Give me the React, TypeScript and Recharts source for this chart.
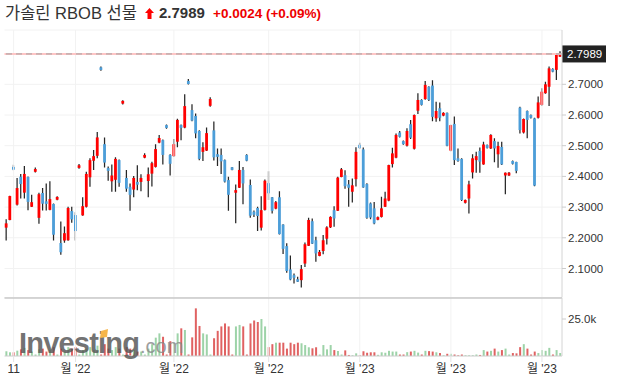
import React from 'react';
import {
  ComposedChart,
  BarChart,
  Bar,
  XAxis,
  YAxis,
  CartesianGrid,
  ReferenceLine,
  Cell,
} from 'recharts';

// OHLC per session
const opens = [
  2.233, 2.258, 2.431, 2.308, 2.399, 2.347, 2.398, 2.301, 2.415, 2.265,
  2.346, 2.318, 2.291, 2.310, 2.324, 2.183, 2.191, 2.192, 2.287, 2.274,
  2.428, 2.273, 2.301, 2.397, 2.451, 2.467, 2.755, 2.505, 2.427, 2.384,
  2.389, 2.453, 2.637, 2.395, 2.366, 2.357, 2.382, 2.382, 2.461, 2.385,
  2.409, 2.431, 2.510, 2.518, 2.567, 2.470, 2.466, 2.513, 2.567, 2.559,
  2.711, 2.616, 2.597, 2.548, 2.480, 2.484, 2.630, 2.550, 2.472, 2.470,
  2.453, 2.388, 2.429, 2.347, 2.363, 2.421, 2.470, 2.372, 2.285, 2.297,
  2.233, 2.291, 2.378, 2.332, 2.295, 2.332, 2.243, 2.173, 2.097, 2.078,
  2.065, 2.062, 2.116, 2.174, 2.254, 2.192, 2.141, 2.157, 2.197, 2.234,
  2.290, 2.288, 2.398, 2.404, 2.374, 2.350, 2.391, 2.503, 2.488, 2.375,
  2.312, 2.296, 2.259, 2.268, 2.301, 2.321, 2.440, 2.461, 2.543, 2.515,
  2.500, 2.570, 2.490, 2.614, 2.649, 2.652, 2.692, 2.696, 2.589, 2.622,
  2.598, 2.607, 2.484, 2.571, 2.459, 2.457, 2.314, 2.328, 2.413, 2.453,
  2.483, 2.439, 2.502, 2.491, 2.515, 2.472, 2.496, 2.403, 2.403, 2.450,
  2.447, 2.624, 2.543, 2.613, 2.600, 2.589, 2.591, 2.633, 2.671, 2.692,
  2.750, 2.747, 2.790,
];
const highs = [
  2.260, 2.337, 2.438, 2.395, 2.408, 2.434, 2.400, 2.340, 2.429, 2.347,
  2.362, 2.377, 2.384, 2.312, 2.335, 2.253, 2.237, 2.301, 2.301, 2.283,
  2.440, 2.332, 2.415, 2.459, 2.486, 2.545, 2.758, 2.527, 2.432, 2.439,
  2.462, 2.455, 2.648, 2.421, 2.377, 2.401, 2.436, 2.407, 2.475, 2.429,
  2.448, 2.505, 2.535, 2.520, 2.569, 2.472, 2.522, 2.588, 2.569, 2.668,
  2.717, 2.635, 2.605, 2.550, 2.511, 2.559, 2.658, 2.579, 2.491, 2.491,
  2.455, 2.399, 2.431, 2.374, 2.450, 2.431, 2.472, 2.390, 2.289, 2.301,
  2.335, 2.390, 2.417, 2.333, 2.320, 2.352, 2.244, 2.182, 2.142, 2.084,
  2.073, 2.111, 2.185, 2.265, 2.263, 2.203, 2.160, 2.209, 2.238, 2.270,
  2.303, 2.399, 2.427, 2.420, 2.388, 2.393, 2.495, 2.510, 2.494, 2.378,
  2.315, 2.317, 2.269, 2.334, 2.350, 2.438, 2.493, 2.540, 2.548, 2.517,
  2.557, 2.584, 2.602, 2.671, 2.651, 2.711, 2.694, 2.713, 2.643, 2.641,
  2.609, 2.608, 2.568, 2.595, 2.491, 2.459, 2.325, 2.386, 2.472, 2.480,
  2.494, 2.513, 2.504, 2.537, 2.524, 2.513, 2.513, 2.413, 2.414, 2.452,
  2.448, 2.627, 2.589, 2.615, 2.602, 2.591, 2.660, 2.687, 2.708, 2.758,
  2.752, 2.801, 2.808,
];
const lows = [
  2.191, 2.257, 2.420, 2.305, 2.328, 2.328, 2.290, 2.300, 2.413, 2.246,
  2.289, 2.289, 2.290, 2.191, 2.322, 2.145, 2.184, 2.190, 2.249, 2.191,
  2.425, 2.272, 2.299, 2.366, 2.421, 2.459, 2.744, 2.429, 2.386, 2.350,
  2.350, 2.366, 2.634, 2.350, 2.288, 2.332, 2.355, 2.352, 2.459, 2.332,
  2.367, 2.429, 2.508, 2.439, 2.555, 2.403, 2.464, 2.495, 2.518, 2.557,
  2.699, 2.580, 2.524, 2.453, 2.450, 2.483, 2.627, 2.452, 2.434, 2.408,
  2.380, 2.288, 2.420, 2.247, 2.362, 2.309, 2.449, 2.265, 2.268, 2.222,
  2.224, 2.289, 2.323, 2.279, 2.293, 2.211, 2.147, 2.086, 2.062, 2.051,
  2.056, 2.038, 2.105, 2.173, 2.180, 2.122, 2.140, 2.146, 2.178, 2.232,
  2.236, 2.287, 2.397, 2.360, 2.301, 2.315, 2.367, 2.490, 2.363, 2.262,
  2.260, 2.244, 2.257, 2.266, 2.300, 2.319, 2.429, 2.459, 2.527, 2.503,
  2.497, 2.522, 2.488, 2.603, 2.631, 2.650, 2.646, 2.580, 2.578, 2.580,
  2.596, 2.498, 2.482, 2.437, 2.448, 2.320, 2.312, 2.279, 2.393, 2.412,
  2.412, 2.438, 2.491, 2.489, 2.446, 2.428, 2.437, 2.342, 2.401, 2.439,
  2.410, 2.540, 2.540, 2.524, 2.589, 2.368, 2.589, 2.630, 2.669, 2.629,
  2.739, 2.714, 2.789,
];
const closes = [
  2.247, 2.336, 2.422, 2.362, 2.375, 2.408, 2.317, 2.316, 2.424, 2.342,
  2.311, 2.311, 2.326, 2.210, 2.333, 2.153, 2.215, 2.297, 2.260, 2.222,
  2.436, 2.303, 2.408, 2.453, 2.466, 2.527, 2.747, 2.445, 2.418, 2.403,
  2.457, 2.379, 2.646, 2.360, 2.340, 2.395, 2.373, 2.395, 2.470, 2.407,
  2.443, 2.489, 2.525, 2.470, 2.558, 2.441, 2.505, 2.584, 2.558, 2.629,
  2.701, 2.582, 2.540, 2.457, 2.495, 2.541, 2.652, 2.462, 2.464, 2.449,
  2.383, 2.340, 2.422, 2.355, 2.421, 2.377, 2.451, 2.272, 2.275, 2.271,
  2.290, 2.386, 2.345, 2.288, 2.316, 2.212, 2.164, 2.092, 2.064, 2.070,
  2.057, 2.098, 2.179, 2.258, 2.181, 2.149, 2.154, 2.192, 2.234, 2.268,
  2.263, 2.396, 2.423, 2.368, 2.363, 2.371, 2.480, 2.492, 2.364, 2.265,
  2.266, 2.247, 2.267, 2.296, 2.328, 2.437, 2.475, 2.535, 2.529, 2.505,
  2.548, 2.526, 2.600, 2.649, 2.633, 2.698, 2.649, 2.594, 2.613, 2.591,
  2.607, 2.500, 2.567, 2.453, 2.450, 2.323, 2.323, 2.374, 2.459, 2.466,
  2.448, 2.504, 2.493, 2.535, 2.491, 2.499, 2.439, 2.412, 2.412, 2.441,
  2.418, 2.551, 2.587, 2.584, 2.591, 2.370, 2.641, 2.676, 2.700, 2.752,
  2.741, 2.796, 2.7989,
];
// volume, in thousands of contracts
const volumes = [
  3.2, 2.5, 2.5, 3.6, 4.5, 5.5, 4, 3, 1, 4.5,
  5, 3, 4, 6, 1, 5, 3, 6, 5, 6,
  1, 4, 5, 6, 4, 7, 1, 8, 5, 4,
  6, 5, 1, 6, 5, 4, 3, 3, 1, 5,
  8, 12.4, 15.3, 13, 1, 10, 9, 15.3, 18.7, 17.6,
  1, 12.6, 32.2, 20.3, 15.3, 14.6, 1, 12, 17, 20,
  22, 20, 1, 20, 21, 20, 1, 22, 24, 23,
  25, 20, 6, 8, 9, 9, 9, 5, 9, 8,
  9, 8.6, 7.4, 5.9, 5.2, 5.9, 1, 7.4, 4.5, 7.4,
  4, 3.4, 1, 3.8, 0.7, 0.5, 1.8, 0.5, 3.2, 2.2,
  2.5, 2.5, 0.8, 2.5, 2.2, 3.5, 3, 3, 1, 1,
  2.6, 3, 3.5, 2.3, 1, 3.5, 3.3, 3, 2.5, 2,
  0.5, 1.5, 1.5, 1, 0.5, 1, 0.5, 0.5, 0.5, 1,
  0.7, 4, 3, 3.5, 5, 3, 4, 5, 1, 2,
  1.8, 6, 8, 5, 1, 3, 2, 4, 3.5, 5.5,
  1, 4, 2,
];

const tickIdx = [2, 19, 46, 72, 97, 122, 147];
const tickLabels = ['11', "월 '22", "월 '22", "월 '22", "월 '23", "월 '23", "월 '23"];
const priceTicks = [2.1, 2.2, 2.3, 2.4, 2.5, 2.6, 2.7];
const volTicks = [25];
const LAST = 2.7989;

const RED = '#ff0000';
const BLUE = '#4c9ed9';
const VOL_UP = '#9dd3a8';
const VOL_DOWN = '#e06262';
const GRID = '#f2f2f2';
const FONT = 'Arial, "Liberation Sans", "Noto Sans CJK KR", sans-serif';

const PRICE_DOMAIN: [number, number] = [2.0055, 2.8769];
const VOL_TOP = 39.2;
const BODY_W = 2.8;

const data = opens.map((o, i) => ({
  i,
  o,
  h: highs[i],
  l: lows[i],
  c: closes[i],
  v: volumes[i],
}));

const Candle = (props: any) => {
  const { x, y, width, height, payload } = props;
  if (x == null || y == null) return null;
  const { o, h, l, c } = payload;
  const top = Math.min(y, y + height);
  const span = Math.abs(height);
  const k = h - l > 0 ? span / (h - l) : 0;
  const yO = top + (h - o) * k;
  const yC = top + (h - c) * k;
  let bTop = Math.min(yO, yC);
  let bH = Math.abs(yO - yC);
  if (bH < 2.6) {
    const mid = (yO + yC) / 2;
    bTop = mid - 1.3;
    bH = 2.6;
  }
  const cx = x + width / 2;
  return (
    <g>
      <line x1={cx} x2={cx} y1={top} y2={top + span} stroke="#262626" strokeWidth={1.25} />
      <rect x={cx - BODY_W / 2} y={bTop} width={BODY_W} height={bH} fill={c >= o ? RED : BLUE} />
    </g>
  );
};

const PriceTag = (props: any) => {
  const vb = props.viewBox;
  if (!vb) return null;
  const x = vb.x + vb.width;
  const y = vb.y;
  return (
    <g>
      <rect x={x} y={y - 8.5} width={44} height={17} fill="#222222" />
      <text x={x + 5} y={y + 4.2} fill="#ffffff" fontSize={11.5} fontFamily={FONT}>
        {LAST.toFixed(4)}
      </text>
    </g>
  );
};

const axisTick = { fill: '#333333', fontSize: 11.5, fontFamily: FONT };

export default function App() {
  return (
    <div
      style={{
        position: 'absolute',
        left: 0,
        top: 0,
        width: 618,
        height: 391,
        background: '#ffffff',
        fontFamily: FONT,
        overflow: 'hidden',
      }}
    >
      {/* header */}
      <div style={{ position: 'absolute', left: 5, top: 4, fontSize: 16.5, lineHeight: '18px', color: '#333333' }}>
        가솔린 RBOB 선물
      </div>
      <svg style={{ position: 'absolute', left: 145, top: 8 }} width={9} height={11}>
        <polygon points="4.5,0 9,5 6.5,5 6.5,11 2.5,11 2.5,5 0,5" fill={RED} />
      </svg>
      <div
        style={{
          position: 'absolute',
          left: 159,
          top: 4,
          fontSize: 15,
          lineHeight: '18px',
          fontWeight: 700,
          color: '#333333',
        }}
      >
        2.7989
      </div>
      <div
        style={{
          position: 'absolute',
          left: 213,
          top: 5,
          fontSize: 13.5,
          lineHeight: '17px',
          fontWeight: 700,
          color: '#ee0000',
        }}
      >
        +0.0024 (+0.09%)
      </div>

      {/* price pane */}
      <div style={{ position: 'absolute', left: 0, top: 0 }}>
        <ComposedChart
          width={618}
          height={298}
          data={data}
          margin={{ top: 30, right: 0, bottom: 0.5, left: 4.5 }}
          barCategoryGap="18%"
        >
          <CartesianGrid vertical={false} stroke={GRID} />
          <XAxis dataKey="i" type="category" hide />
          <YAxis
            orientation="right"
            width={56}
            domain={PRICE_DOMAIN}
            allowDataOverflow
            ticks={priceTicks}
            interval={0}
            tickFormatter={(v: number) => v.toFixed(4)}
            tick={axisTick}
            tickSize={4}
            tickMargin={2}
            tickLine={{ stroke: '#cccccc' }}
            axisLine={{ stroke: '#d4d4d4' }}
          />
          {tickIdx.map((t) => (
            <ReferenceLine key={t} x={t} stroke={GRID} />
          ))}
          <ReferenceLine y={LAST} stroke="#ffc6c6" strokeWidth={2} />
          <ReferenceLine
            y={LAST}
            stroke="#a0a0a0"
            strokeDasharray="6 4"
            label={<PriceTag />}
          />
          <Bar dataKey={(d: any) => [d.l, d.h]} shape={<Candle />} isAnimationActive={false} />
        </ComposedChart>
      </div>

      {/* volume pane */}
      <div style={{ position: 'absolute', left: 0, top: 297 }}>
        <BarChart
          width={618}
          height={94}
          data={data}
          margin={{ top: 1, right: 0, bottom: 0, left: 4.5 }}
          barCategoryGap="24%"
        >
          <XAxis
            dataKey="i"
            type="category"
            ticks={tickIdx}
            interval={0}
            height={35}
            tickFormatter={(v: number) => tickLabels[tickIdx.indexOf(v)] ?? ''}
            tick={{ fill: '#333333', fontSize: 12, fontFamily: FONT }}
            tickSize={6}
            tickMargin={2}
            tickLine={{ stroke: '#e4e4e4' }}
            axisLine={{ stroke: '#cccccc' }}
          />
          <YAxis
            orientation="right"
            width={56}
            domain={[0, VOL_TOP]}
            allowDataOverflow
            ticks={volTicks}
            tickFormatter={(v: number) => `${v.toFixed(1)}k`}
            tick={axisTick}
            tickSize={4}
            tickMargin={2}
            tickLine={{ stroke: '#cccccc' }}
            axisLine={{ stroke: '#d4d4d4' }}
          />
          {tickIdx.map((t) => (
            <ReferenceLine key={t} x={t} stroke={GRID} />
          ))}
          <ReferenceLine y={VOL_TOP} stroke="#c8c8c8" strokeWidth={1.5} />
          <Bar dataKey="v" isAnimationActive={false}>
            {data.map((d) => (
              <Cell key={d.i} fill={d.c >= d.o ? VOL_UP : VOL_DOWN} />
            ))}
          </Bar>
        </BarChart>
      </div>

      {/* watermark */}
      <svg style={{ position: 'absolute', left: 0, top: 0, pointerEvents: 'none' }} width={618} height={391}>
        <g opacity={0.82}>
          <text x={19} y={353} fontSize={29} fontWeight={700} fill="#555555" fontFamily={FONT} letterSpacing={-0.8}>
            Investing
          </text>
          <text x={140} y={353} fontSize={20} fill="#8a8a8a" fontFamily={FONT}>
            .com
          </text>
          <polygon points="101,331 108,329 107,337 100,338" fill="#f5a623" />
        </g>
      </svg>
    </div>
  );
}
